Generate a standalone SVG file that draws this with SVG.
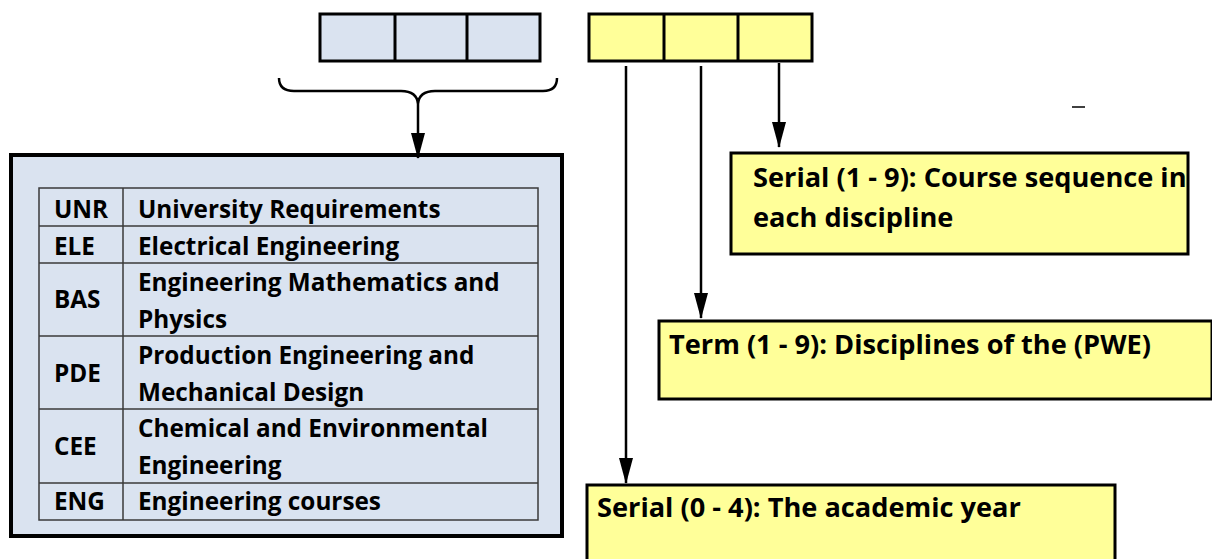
<svg xmlns="http://www.w3.org/2000/svg" width="1212" height="559" viewBox="0 0 1212 559">
<defs>
<style>
.t{font-family:"Open Sans","Noto Sans","Liberation Sans",sans-serif;font-weight:bold;font-size:24.3px;fill:#000}
.r{font-size:27.2px}
.cellb{fill:#dae3f0;stroke:#000;stroke-width:3}
.celly{fill:#ffff99;stroke:#000;stroke-width:3}
.tbl{fill:none;stroke:#3a3a3a;stroke-width:1.5}
.conn{fill:none;stroke:#000;stroke-width:2.5}
</style>
<marker id="ar" viewBox="0 0 26 14" markerWidth="26" markerHeight="14" refX="25" refY="7" orient="auto" markerUnits="userSpaceOnUse">
<path d="M0,0 L26,7 L0,14 Z" fill="#000"/>
</marker>
</defs>

<g id="code-blue">
<rect class="cellb" x="320" y="14" width="220" height="47"/>
<line x1="395" y1="14" x2="395" y2="61" stroke="#000" stroke-width="3"/>
<line x1="467" y1="14" x2="467" y2="61" stroke="#000" stroke-width="3"/>
</g>

<g id="code-yellow">
<rect class="celly" x="589" y="14" width="223" height="47"/>
<line x1="664" y1="14" x2="664" y2="61" stroke="#000" stroke-width="3"/>
<line x1="738" y1="14" x2="738" y2="61" stroke="#000" stroke-width="3"/>
</g>

<g id="brace">
<path class="conn" stroke-width="2" d="M279,78 Q279,91 294,91 L401,91 Q417,91 418,104 Q419,91 435,91 L543,91 Q557,91 557,78"/>
</g>

<g id="disciplines">
<rect x="11" y="155" width="551" height="381" fill="#dae3f0" stroke="#000" stroke-width="4"/>
<rect class="tbl" x="39" y="188" width="499" height="332"/>
<line class="tbl" x1="123" y1="188" x2="123" y2="520"/>
<line class="tbl" x1="39" y1="226" x2="538" y2="226"/>
<line class="tbl" x1="39" y1="263" x2="538" y2="263"/>
<line class="tbl" x1="39" y1="336" x2="538" y2="336"/>
<line class="tbl" x1="39" y1="409" x2="538" y2="409"/>
<line class="tbl" x1="39" y1="483" x2="538" y2="483"/>
<text class="t" x="54" y="218">UNR</text>
<text class="t" x="138" y="218">University Requirements</text>
<text class="t" x="54" y="255">ELE</text>
<text class="t" x="138" y="255">Electrical Engineering</text>
<text class="t" x="54" y="308">BAS</text>
<text class="t" x="138" y="291">Engineering Mathematics and</text>
<text class="t" x="138" y="328">Physics</text>
<text class="t" x="54" y="382">PDE</text>
<text class="t" x="138" y="364">Production Engineering and</text>
<text class="t" x="138" y="401">Mechanical Design</text>
<text class="t" x="54" y="455">CEE</text>
<text class="t" x="138" y="437">Chemical and Environmental</text>
<text class="t" x="138" y="474">Engineering</text>
<text class="t" x="54" y="510">ENG</text>
<text class="t" x="138" y="510">Engineering courses</text>
</g>

<g id="serial-course">
<rect class="celly" x="731" y="153" width="457" height="101" stroke-width="4"/>
<text class="t r" x="753" y="187">Serial (1 - 9): Course sequence in</text>
<text class="t r" x="753" y="227">each discipline</text>
</g>

<g id="term">
<rect class="celly" x="659" y="321" width="553" height="78" stroke-width="4"/>
<text class="t r" x="669" y="354">Term (1 - 9): Disciplines of the (PWE)</text>
</g>

<g id="serial-year">
<rect class="celly" x="587" y="485" width="528" height="80" stroke-width="4"/>
<text class="t r" x="597" y="517">Serial (0 - 4): The academic year</text>
</g>

<line x1="1072" y1="107" x2="1085" y2="107" stroke="#000" stroke-width="1.5"/>

<g id="connectors">
<line class="conn" x1="418" y1="104" x2="418" y2="158" marker-end="url(#ar)"/>
<line class="conn" x1="779" y1="63" x2="779" y2="147" marker-end="url(#ar)"/>
<line class="conn" x1="701" y1="66" x2="701" y2="318" marker-end="url(#ar)"/>
<line class="conn" x1="626" y1="66" x2="626" y2="483" marker-end="url(#ar)"/>
</g>
</svg>
